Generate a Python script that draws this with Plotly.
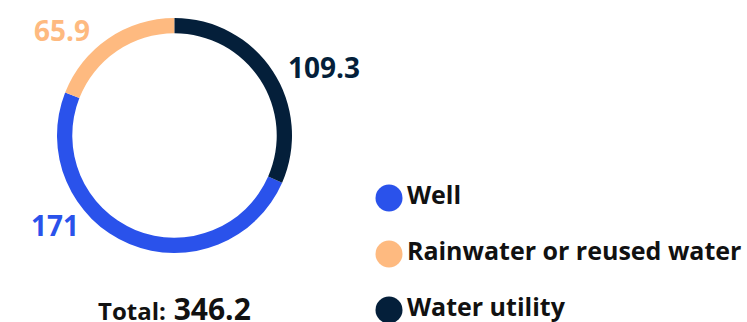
import plotly.graph_objects as go

# ---- data ----
categories = ["Well", "Rainwater or reused water", "Water utility"]
values = [171, 65.9, 109.3]
colors = ["#2A52EB", "#FEBA80", "#041F3A"]

total = round(sum(values), 1)
W, H = 747, 322
FONT = "Open Sans"

# pie geometry (layout)
cx, cy, R = 174.5, 135.5, 117.5  # px, from top-left
rotation = 360 * values[2] / total  # the water-utility slice sits first from 12 o'clock

fig = go.Figure()
fig.add_trace(go.Pie(
    labels=categories,
    values=values,
    marker=dict(colors=colors, line=dict(width=0)),
    hole=0.87,
    sort=False,
    direction="clockwise",
    rotation=rotation,
    textinfo="none",
    hoverinfo="skip",
    showlegend=False,
    domain=dict(x=[(cx - R) / W, (cx + R) / W], y=[1 - (cy + R) / H, 1 - (cy - R) / H]),
))

# legend drawn as a scatter on a hidden category axis
leg_x0, leg_top, leg_step = 389, 198, 56
fig.add_trace(go.Scatter(
    x=[0] * len(categories),
    y=categories,
    mode="markers+text",
    marker=dict(size=27, color=colors, line=dict(width=0)),
    text=categories,
    textposition="middle right",
    textfont=dict(family=FONT, size=25, color="#111111", weight="bold"),
    hoverinfo="skip",
    showlegend=False,
    cliponaxis=False,
))

# value labels (layout positions, text from data)
label_pos = {"Well": (54.7, 225), "Rainwater or reused water": (61.7, 30), "Water utility": (324, 66.7)}
annotations = []
for cat, v, c in zip(categories, values, colors):
    px, py = label_pos[cat]
    annotations.append(dict(
        x=px / W, y=1 - py / H, xref="paper", yref="paper",
        xanchor="center", yanchor="middle", showarrow=False,
        text=f"{v:g}",
        font=dict(family=FONT, size=28, color=c, weight="bold"),
    ))
annotations.append(dict(
    x=174 / W, y=1 - 331 / H, xref="paper", yref="paper",
    xanchor="center", yanchor="bottom", showarrow=False,
    text=f"<span style='font-size:24px'>Total:</span> {total:g}",
    font=dict(family=FONT, size=30, color="#111111", weight="bold"),
))

fig.update_layout(
    width=W, height=H,
    margin=dict(l=0, r=0, t=0, b=0),
    paper_bgcolor="white", plot_bgcolor="rgba(0,0,0,0)",
    annotations=annotations,
    xaxis=dict(domain=[0, 1], range=[-leg_x0, W - leg_x0], visible=False, fixedrange=True),
    yaxis=dict(domain=[0, 1], type="category", categoryorder="array", categoryarray=categories,
               range=[(H - leg_top) / leg_step, -leg_top / leg_step], visible=False, fixedrange=True),
    showlegend=False,
)

fig.write_html("out.html")
